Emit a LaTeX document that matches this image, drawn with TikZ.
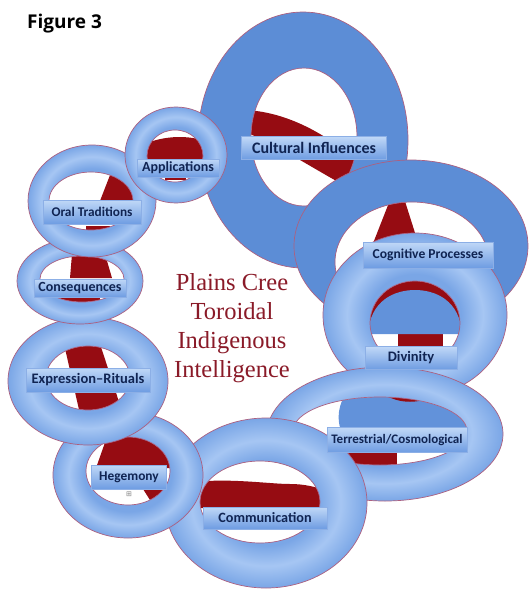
\documentclass[tikz,border=0pt]{standalone}
\usepackage{fontspec}
\newfontfamily\carlito{Carlito}
\newfontfamily\titleserif{Liberation Serif}
\newfontfamily\figfont{Open Sans}
\newfontfamily\symfont{DejaVu Sans}
\definecolor{bandflat}{RGB}{92,141,214}
\definecolor{tlight}{RGB}{166,198,243}
\definecolor{tdark}{RGB}{122,166,230}
\definecolor{inblue}{RGB}{98,146,218}
\definecolor{redin}{RGB}{150,12,18}
\definecolor{ringedgec}{RGB}{172,96,128}
\definecolor{lbltop}{RGB}{192,216,247}
\definecolor{lblbot}{RGB}{110,156,226}
\definecolor{lbledge}{RGB}{140,175,230}
\definecolor{lbltext}{RGB}{16,36,82}
\definecolor{titlered}{RGB}{138,26,40}
\pgfdeclareradialshading{torA}{\pgfpoint{0bp}{0bp}}{color(0bp)=(tdark); color(12.5bp)=(tdark); color(18.5bp)=(tlight); color(25bp)=(tdark); color(50bp)=(tdark)}
\pgfdeclareradialshading{torB}{\pgfpoint{0bp}{0bp}}{color(0bp)=(tdark); color(14.5bp)=(tdark); color(19.8bp)=(tlight); color(25bp)=(tdark); color(50bp)=(tdark)}
\begin{document}
\begin{tikzpicture}[x=1pt,y=-1pt,
  ringedge/.style={draw=ringedgec, line width=0.7pt},
  lbl/.style={rectangle, inner sep=0pt, top color=lbltop, bottom color=lblbot, draw=lbledge, line width=0.4pt, text=lbltext, font=\carlito\bfseries},
  ttl/.style={anchor=base, text=titlered, font=\titleserif\fontsize{24.5}{29}\selectfont}]
\fill[white] (0,0) rectangle (531,590);
\useasboundingbox (0,0) rectangle (531,590);

% 1 Cultural Influences
\begin{scope}
\clip (304,137) ellipse [x radius=53pt,y radius=69pt];
\fill[white] (240,60) rectangle (370,215);
\fill[redin] (245,110) .. controls (292,112) and (335,140) .. (362,166) -- (362,194) .. controls (330,180) and (285,148) .. (245,132) -- cycle;
\end{scope}
\fill[bandflat, even odd rule] (303,140) ellipse [x radius=105pt,y radius=128pt] (304,137) ellipse [x radius=53pt,y radius=69pt];
\draw[ringedge] (303,140) ellipse [x radius=105pt,y radius=128pt] (304,137) ellipse [x radius=53pt,y radius=69pt];

% 2 Cognitive Processes
\begin{scope}
\clip (412,262) ellipse [x radius=77pt,y radius=60pt];
\fill[white] (330,195) rectangle (495,330);
\fill[redin] (392,195) -- (403,195) -- (416,236) -- (372,246) -- cycle;
\end{scope}
\fill[bandflat, even odd rule] (411,246) ellipse [x radius=117pt,y radius=86pt] (412,262) ellipse [x radius=77pt,y radius=60pt];
\draw[ringedge] (411,246) ellipse [x radius=117pt,y radius=86pt] (412,262) ellipse [x radius=77pt,y radius=60pt];

% 3 Divinity
\begin{scope}
\clip (415,323) ellipse [x radius=45pt,y radius=42pt];
\fill[redin] (365,275) rectangle (465,335);
\fill[white] (365,333) rectangle (465,370);
\fill[redin] (398,333) rectangle (443,352);
\fill[inblue] (368,334) .. controls (370,300) and (395,290) .. (415,290) .. controls (435,290) and (460,300) .. (462,334) -- cycle;
\end{scope}
\shade[shading=torA, even odd rule] (415,315) ellipse [x radius=92pt,y radius=82pt] (415,323) ellipse [x radius=45pt,y radius=42pt];
\draw[ringedge] (415,315) ellipse [x radius=92pt,y radius=82pt] (415,323) ellipse [x radius=45pt,y radius=42pt];

% 4 Terrestrial/Cosmological
\begin{scope}
\clip (380,431) ellipse [x radius=87pt,y radius=34pt];
\fill[white] (290,395) rectangle (470,468);
\fill[inblue] (345,395) .. controls (336,410) and (338,425) .. (342,432) -- (470,432) -- (470,395) -- cycle;
\fill[redin] (385,395) .. controls (400,404) and (420,404) .. (435,395) -- cycle;
\fill[redin] (347,450) rectangle (397,470);
\end{scope}
\shade[shading=torA, even odd rule] (385,434) ellipse [x radius=118pt,y radius=67pt] (380,431) ellipse [x radius=87pt,y radius=34pt];
\draw[ringedge] (385,434) ellipse [x radius=118pt,y radius=67pt] (380,431) ellipse [x radius=87pt,y radius=34pt];

% 5 Communication
\begin{scope}
\clip (260,502) ellipse [x radius=60pt,y radius=41pt];
\fill[white] (195,458) rectangle (325,546);
\fill[inblue!70] (280,462) .. controls (300,468) and (315,478) .. (322,490) -- (325,462) -- cycle;
\fill[redin] (195,482) .. controls (230,478) and (270,484) .. (290,484) .. controls (305,484) and (315,487) .. (325,490) -- (325,508) -- (195,508) -- cycle;
\end{scope}
\shade[shading=torA, even odd rule] (266,503) ellipse [x radius=101pt,y radius=85pt] (260,502) ellipse [x radius=60pt,y radius=41pt];
\draw[ringedge] (266,503) ellipse [x radius=101pt,y radius=85pt] (260,502) ellipse [x radius=60pt,y radius=41pt];

% 6 Hegemony
\begin{scope}
\clip (128,471) ellipse [x radius=42pt,y radius=34pt];
\fill[white] (84,435) rectangle (172,507);
\fill[redin] (108,434) -- (175,434) -- (175,468) -- (96,468) -- cycle;
\fill[redin] (143,489) -- (172,489) -- (172,500) -- (150,500) -- cycle;
\end{scope}
\shade[shading=torB, even odd rule] (128,475) ellipse [x radius=75pt,y radius=63pt] (128,471) ellipse [x radius=42pt,y radius=34pt];
\draw[ringedge] (128,475) ellipse [x radius=75pt,y radius=63pt] (128,471) ellipse [x radius=42pt,y radius=34pt];

% 7 Expression-Rituals
\begin{scope}
\clip (88,378) ellipse [x radius=42pt,y radius=32pt];
\fill[white] (44,344) rectangle (132,412);
\fill[redin] (64,344) -- (100,344) -- (123,414) -- (80,414) -- cycle;
\end{scope}
\shade[shading=torA, even odd rule] (88,381) ellipse [x radius=80pt,y radius=64pt] (88,378) ellipse [x radius=42pt,y radius=32pt];
\draw[ringedge] (88,381) ellipse [x radius=80pt,y radius=64pt] (88,378) ellipse [x radius=42pt,y radius=32pt];

% 8 Consequences
\begin{scope}
\clip (82,279) ellipse [x radius=42pt,y radius=23pt];
\fill[white] (38,254) rectangle (126,304);
\fill[redin] (72,254) -- (105,254) -- (112,278) -- (70,278) -- cycle;
\fill[redin] (60,297) rectangle (100,304);
\end{scope}
\shade[shading=torB, even odd rule] (80,281) ellipse [x radius=63pt,y radius=43pt] (82,279) ellipse [x radius=42pt,y radius=23pt];
\draw[ringedge] (80,281) ellipse [x radius=63pt,y radius=43pt] (82,279) ellipse [x radius=42pt,y radius=23pt];

% 9 Oral Traditions
\begin{scope}
\clip (91,201) ellipse [x radius=42pt,y radius=29pt];
\fill[white] (47,170) rectangle (135,232);
\fill[redin] (112,170) -- (136,180) -- (136,206) -- (98,206) -- cycle;
\fill[redin] (86,226) rectangle (110,232);
\end{scope}
\shade[shading=torB, even odd rule] (92,201) ellipse [x radius=64pt,y radius=56pt] (91,201) ellipse [x radius=42pt,y radius=29pt];
\draw[ringedge] (92,201) ellipse [x radius=64pt,y radius=56pt] (91,201) ellipse [x radius=42pt,y radius=29pt];

% 10 Applications
\begin{scope}
\clip (175,156) ellipse [x radius=28pt,y radius=26pt];
\fill[white] (145,128) rectangle (205,184);
\fill[redin] (145,144) .. controls (160,137) and (185,134) .. (205,141) -- (205,163) -- (145,163) -- cycle;
\fill[redin] (165,174) rectangle (186,180);
\end{scope}
\shade[shading=torB, even odd rule] (176,155) ellipse [x radius=51pt,y radius=48pt] (175,156) ellipse [x radius=28pt,y radius=26pt];
\draw[ringedge] (176,155) ellipse [x radius=51pt,y radius=48pt] (175,156) ellipse [x radius=28pt,y radius=26pt];

% labels
\node[lbl, minimum width=145pt, minimum height=23pt, font=\carlito\bfseries\fontsize{16}{16}\selectfont] (cultural) at (314,148) {Cultural Influences};
\node[lbl, minimum width=130pt, minimum height=26pt, font=\carlito\bfseries\fontsize{13.6}{14}\selectfont] (cognitive) at (428,255) {Cognitive Processes};
\node[lbl, minimum width=92pt, minimum height=23pt, font=\carlito\bfseries\fontsize{14.5}{15}\selectfont] (divinity) at (411,358) {Divinity};
\node[lbl, minimum width=140pt, minimum height=25pt, font=\carlito\bfseries\fontsize{13}{13}\selectfont] (terrestrial) at (397,440) {Terrestrial/Cosmological};
\node[lbl, minimum width=124pt, minimum height=22pt, font=\carlito\bfseries\fontsize{14.2}{14}\selectfont] (communication) at (265,518) {Communication};
\node[lbl, minimum width=75pt, minimum height=24pt, font=\carlito\bfseries\fontsize{13.4}{14}\selectfont] (hegemony) at (129,477) {Hegemony};
\node[lbl, minimum width=124pt, minimum height=24pt, font=\carlito\bfseries\fontsize{14.5}{15}\selectfont] (expression) at (88,380) {Expression–Rituals};
\node[lbl, minimum width=92pt, minimum height=18pt, font=\carlito\bfseries\fontsize{14}{14}\selectfont] (consequences) at (80,288) {Consequences};
\node[lbl, minimum width=98pt, minimum height=24pt, font=\carlito\bfseries\fontsize{13.3}{14}\selectfont] (oral) at (92,212) {Oral Traditions};
\node[lbl, minimum width=82pt, minimum height=18pt, font=\carlito\bfseries\fontsize{14}{14}\selectfont] (applications) at (178,168) {Applications};
\node[text=gray, font=\symfont\fontsize{7}{7}\selectfont, inner sep=0pt] (handle) at (129,494) {⊞};

% title
\node[ttl] (t1) at (232,290) {Plains Cree};
\node[ttl] (t2) at (232,319) {Toroidal};
\node[ttl] (t3) at (232,348) {Indigenous};
\node[ttl] (t4) at (232,377) {Intelligence};

\node[anchor=base west, inner sep=0pt, font=\figfont\bfseries\fontsize{19}{19}\selectfont] (fig) at (27,28) {Figure 3};
\end{tikzpicture}
\end{document}
